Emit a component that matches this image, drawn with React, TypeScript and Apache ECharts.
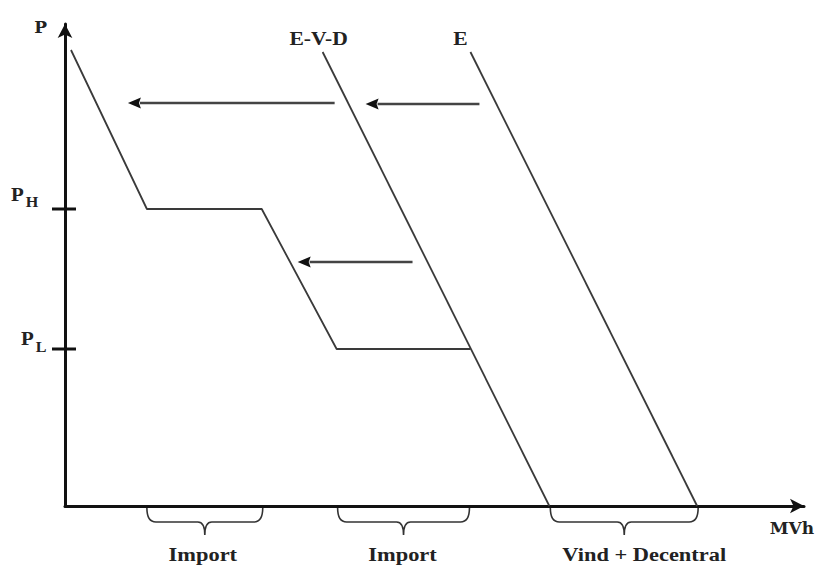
import React, { useEffect, useRef } from "react";
import * as echarts from "echarts";

// Quantity (MWh) / price (P) coordinates in abstract schematic units
const demandQ = [6, 82, 197, 272, 406];
const demandP = [456, 297, 297, 157, 157];
const evdQ = [258, 485];
const evdP = [454, 0];
const eQ = [406, 633];
const eP = [454, 0];
const curveNames = ["E-V-D", "E"];
const curveTopQ = [258, 406];
const curveTopP = [454, 454];

const priceLevels = [297, 157];
const priceSubs = ["H", "L"];

const shiftFrom = [270, 415, 348];
const shiftTo = [63, 301, 233];
const shiftP = [403, 402, 244];

const braceStart = [82, 273, 486];
const braceEnd = [198, 405, 634];
const braceLabels = ["Import", "Import", "Vind + Decentral"];

const SERIF = "'Liberation Serif', 'Times New Roman', serif";
const INK = "#111";
const LINE = "#3a3a3a";

export default function App() {
  const ref = useRef<HTMLDivElement>(null);
  useEffect(() => {
    if (!ref.current) return;
    const chart = echarts.init(ref.current, null, { renderer: "svg" });

    const labelDx = [-2, -1, 20];
    const curveLabelDx = [-4, -10];
    const tickLabelOff = [
      { px: -47.5, py: -15, sx: -33, sy: -7 },
      { px: -37.5, py: -10.5, sx: -24, sy: -2 },
    ];

    const option: any = {
      animation: false,
      backgroundColor: "#fff",
      grid: { left: 65, right: 12, top: 24, bottom: 59 },
      xAxis: {
        type: "value",
        min: 0,
        max: 740,
        name: "MVh",
        nameLocation: "end",
        nameGap: 10,
        nameTextStyle: {
          fontFamily: "'DejaVu Serif', serif",
          fontWeight: "bold",
          fontSize: 17,
          color: "#222",
          align: "right",
          verticalAlign: "top",
          padding: [13, 0, 0, 0],
        },
        axisLine: {
          show: true,
          symbol: ["none", "arrow"],
          symbolSize: [11, 14],
          lineStyle: { color: INK, width: 3 },
        },
        axisTick: { show: false },
        axisLabel: { show: false },
        splitLine: { show: false },
      },
      yAxis: {
        type: "value",
        min: 0,
        max: 482,
        name: "P",
        nameLocation: "end",
        nameGap: -3,
        nameTextStyle: {
          fontFamily: "'DejaVu Serif', serif",
          fontWeight: "bold",
          fontSize: 17,
          color: "#222",
          align: "right",
          verticalAlign: "middle",
          padding: [0, 18, 0, 0],
        },
        axisLine: {
          show: true,
          onZero: false,
          symbol: ["none", "arrow"],
          symbolSize: [11, 14],
          lineStyle: { color: INK, width: 3 },
        },
        axisTick: { show: false },
        axisLabel: { show: false },
        splitLine: { show: false },
      },
      series: [
        {
          type: "line",
          name: "Efterspørgsel med import",
          data: demandQ.map((q, i) => [q, demandP[i]]),
          symbol: "none",
          lineStyle: { color: LINE, width: 1.8 },
        },
        {
          type: "line",
          name: "E-V-D",
          data: evdQ.map((q, i) => [q, evdP[i]]),
          symbol: "none",
          lineStyle: { color: LINE, width: 1.8 },
        },
        {
          type: "line",
          name: "E",
          data: eQ.map((q, i) => [q, eP[i]]),
          symbol: "none",
          lineStyle: { color: LINE, width: 1.8 },
        },
        {
          type: "custom",
          name: "curve labels",
          data: curveTopQ.map((q, i) => [q, curveTopP[i]]),
          renderItem: (params: any, api: any) => {
            const i = params.dataIndex;
            const p = api.coord([api.value(0), api.value(1)]);
            return {
              type: "text",
              x: p[0] + curveLabelDx[i],
              y: p[1] - 13,
              scaleX: 1.2,
              style: {
                text: curveNames[i],
                fontFamily: SERIF,
                fontWeight: "bold",
                fontSize: 18,
                fill: "#222",
                align: "center",
                verticalAlign: "middle",
              },
            };
          },
        },
        {
          type: "custom",
          name: "shifts",
          data: shiftFrom.map((f, i) => [f, shiftTo[i], shiftP[i]]),
          renderItem: (params: any, api: any) => {
            const a = api.coord([api.value(0), api.value(2)]);
            const b = api.coord([api.value(1), api.value(2)]);
            const head = 13;
            const hw = 5.5;
            return {
              type: "group",
              children: [
                {
                  type: "line",
                  shape: { x1: a[0], y1: a[1], x2: b[0] + head - 1, y2: b[1] },
                  style: { stroke: "#444", lineWidth: 2.4 },
                },
                {
                  type: "polygon",
                  shape: {
                    points: [
                      [b[0], b[1]],
                      [b[0] + head, b[1] - hw],
                      [b[0] + head - 2, b[1]],
                      [b[0] + head, b[1] + hw],
                    ],
                  },
                  style: { fill: "#111" },
                },
              ],
            };
          },
        },
        {
          type: "custom",
          name: "price levels",
          data: priceLevels.map((p) => [0, p]),
          renderItem: (params: any, api: any) => {
            const i = params.dataIndex;
            const c = api.coord([0, api.value(1)]);
            const o = tickLabelOff[i];
            return {
              type: "group",
              children: [
                {
                  type: "line",
                  shape: { x1: c[0] - 13, y1: c[1], x2: c[0] + 11, y2: c[1] },
                  style: { stroke: INK, lineWidth: 3 },
                },
                {
                  type: "text",
                  x: c[0] + o.px,
                  y: c[1] + o.py,
                  scaleX: 1.1,
                  style: {
                    text: "P",
                    fontFamily: SERIF,
                    fontWeight: "bold",
                    fontSize: 19,
                    fill: "#222",
                    align: "center",
                    verticalAlign: "middle",
                  },
                },
                {
                  type: "text",
                  x: c[0] + o.sx,
                  y: c[1] + o.sy,
                  scaleX: 1.15,
                  style: {
                    text: priceSubs[i],
                    fontFamily: SERIF,
                    fontWeight: "bold",
                    fontSize: 14,
                    fill: "#222",
                    align: "center",
                    verticalAlign: "middle",
                  },
                },
              ],
            };
          },
        },
        {
          type: "custom",
          name: "braces",
          data: braceStart.map((s, i) => [s, braceEnd[i]]),
          renderItem: (params: any, api: any) => {
            const i = params.dataIndex;
            const a = api.coord([api.value(0), 0]);
            const b = api.coord([api.value(1), 0]);
            const x1 = a[0];
            const x2 = b[0];
            const y0 = a[1];
            const xm = (x1 + x2) / 2;
            const yT = y0 + 2;
            const yH = y0 + 16;
            const yP = y0 + 29;
            const r = 9;
            const d =
              `M${x1},${yT} Q${x1},${yH} ${x1 + r},${yH} L${xm - 7},${yH} ` +
              `Q${xm},${yH} ${xm},${yP} Q${xm},${yH} ${xm + 7},${yH} ` +
              `L${x2 - r},${yH} Q${x2},${yH} ${x2},${yT}`;
            return {
              type: "group",
              children: [
                {
                  type: "path",
                  shape: { pathData: d },
                  style: { stroke: "#333", lineWidth: 1.6, fill: "none" },
                },
                {
                  type: "text",
                  x: xm + labelDx[i],
                  y: y0 + 48,
                  scaleX: 1.18,
                  style: {
                    text: braceLabels[i],
                    fontFamily: SERIF,
                    fontWeight: "bold",
                    fontSize: 19,
                    fill: "#222",
                    align: "center",
                    verticalAlign: "middle",
                  },
                },
              ],
            };
          },
        },
      ],
    };
    chart.setOption(option);
    return () => chart.dispose();
  }, []);

  return (
    <div
      ref={ref}
      style={{ position: "fixed", left: 0, top: 0, width: 817, height: 565, background: "#fff" }}
    />
  );
}
